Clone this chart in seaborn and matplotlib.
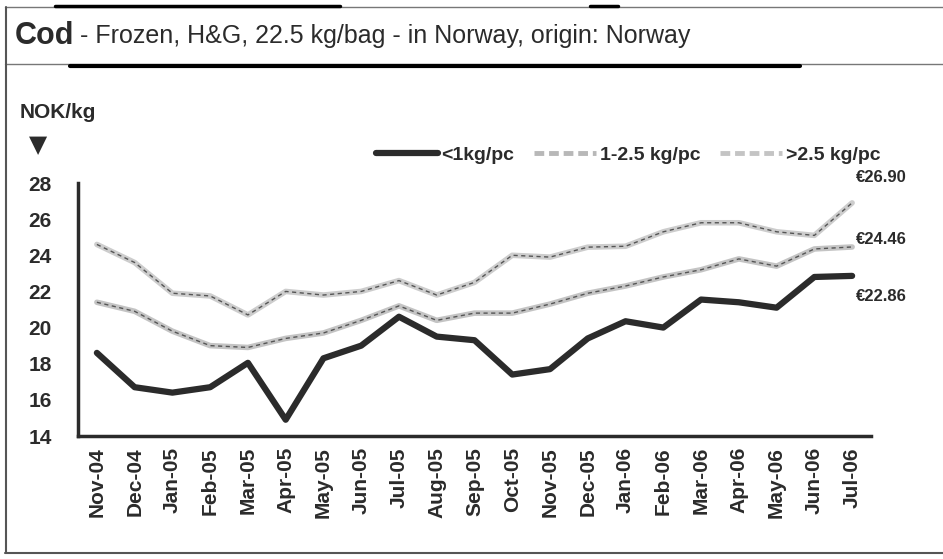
import matplotlib
matplotlib.use("Agg")
import matplotlib.pyplot as plt
from matplotlib.lines import Line2D
import seaborn as sns
import pandas as pd

months = ["Nov-04", "Dec-04", "Jan-05", "Feb-05", "Mar-05", "Apr-05", "May-05",
          "Jun-05", "Jul-05", "Aug-05", "Sep-05", "Oct-05", "Nov-05", "Dec-05",
          "Jan-06", "Feb-06", "Mar-06", "Apr-06", "May-06", "Jun-06", "Jul-06"]
small = [18.6, 16.7, 16.4, 16.7, 18.05, 14.9, 18.3, 19.0, 20.6, 19.5, 19.3,
         17.4, 17.7, 19.4, 20.35, 20.0, 21.55, 21.4, 21.1, 22.8, 22.86]
medium = [21.4, 20.9, 19.8, 19.0, 18.9, 19.4, 19.7, 20.4, 21.2, 20.4, 20.8,
          20.8, 21.3, 21.9, 22.3, 22.8, 23.2, 23.8, 23.4, 24.35, 24.46]
large = [24.6, 23.6, 21.9, 21.75, 20.7, 22.0, 21.8, 22.0, 22.6, 21.8, 22.5,
         24.0, 23.9, 24.45, 24.5, 25.3, 25.8, 25.8, 25.3, 25.1, 26.9]
series_names = ["<1kg/pc", "1-2.5 kg/pc", ">2.5 kg/pc"]
end_labels = ["€22.86", "€24.46", "€26.90"]

df = pd.DataFrame({"month": months * 3,
                   "idx": list(range(len(months))) * 3,
                   "price": small + medium + large,
                   "size": [s for s in series_names for _ in months]})

sns.set_theme(style="white")
plt.rcParams["font.family"] = ["Liberation Sans", "DejaVu Sans"]

fig = plt.figure(figsize=(9.43, 5.59), dpi=100)
ax = fig.add_axes([78 / 943, 1 - 436 / 559, (871 - 78) / 943, (436 - 183) / 559])

dark = "#2b2b2b"
# thick solid line for the small fish
sns.lineplot(data=df[df["size"] == series_names[0]], x="idx", y="price",
             color=dark, lw=4.5, ax=ax, legend=False)
# the two larger sizes: soft grey band with a fine dashed core
for name, band in [(series_names[1], "#c4c4c4"), (series_names[2], "#cdcdcd")]:
    sub = df[df["size"] == name]
    sns.lineplot(data=sub, x="idx", y="price", color=band, lw=4, ax=ax, legend=False)
    sns.lineplot(data=sub, x="idx", y="price", color="#555555", lw=1.0,
                 ls=(0, (3, 2.5)), ax=ax, legend=False)

ax.set_xlim(-0.5, len(months) - 0.5)
ax.set_ylim(14, 28)
ax.set_yticks(range(14, 29, 2))
ax.set_yticklabels([str(v) for v in range(14, 29, 2)], fontsize=15,
                   fontweight="bold", color=dark)
ax.set_xticks(range(len(months)))
ax.set_xticklabels(months, rotation=90, fontsize=15, fontweight="bold", color=dark)
ax.set_xticks([i - 0.5 for i in range(len(months) + 1)], minor=True)
ax.tick_params(axis="x", which="major", length=0, pad=8)
ax.tick_params(axis="x", which="minor", length=7, width=2, color=dark, direction="out")
ax.tick_params(axis="y", length=7, width=2, color=dark, direction="out", pad=12)
ax.set_xlabel("")
ax.set_ylabel("")
for side in ["top", "right"]:
    ax.spines[side].set_visible(False)
for side in ["left", "bottom"]:
    ax.spines[side].set_color(dark)
    ax.spines[side].set_linewidth(2.5)

# closing values at the right edge
last = len(months) - 1
offsets = [-21, 7, 25]
for vals, lab, off in zip([small, medium, large], end_labels, offsets):
    ax.annotate(lab, xy=(last, vals[-1]), xytext=(4, off),
                textcoords="offset pixels", annotation_clip=False,
                fontsize=12, fontweight="bold", color=dark,
                va="center", ha="left")

# legend
handles = [Line2D([], [], color=dark, lw=4.5),
           Line2D([], [], color="#b8b8b8", lw=3.5, ls=(0, (2, 1))),
           Line2D([], [], color="#c4c4c4", lw=3.5, ls=(0, (2, 1)))]
leg = fig.legend(handles, series_names, loc="center left",
                 bbox_to_anchor=(358 / 943, 1 - 155 / 559), ncol=3, frameon=False,
                 handlelength=3.2, handletextpad=0.2, columnspacing=1.0,
                 prop={"size": 14, "weight": "bold"})
for t in leg.get_texts():
    t.set_color(dark)

# unit label with pointer
fig.text(20 / 943, 1 - 112 / 559, "NOK/kg", fontsize=15, fontweight="bold",
         color=dark, va="center", ha="left")
fig.text(38 / 943, 1 - 145 / 559, "▼", fontsize=17, color=dark,
         va="center", ha="center", family="DejaVu Sans")

# title: bold species name followed by the product description
cod = fig.text(15 / 943, 1 - 36 / 559, "Cod", fontsize=22, fontweight="bold",
               color=dark, va="center", ha="left")
fig.canvas.draw()
cod_box = cod.get_window_extent()
fig.text((cod_box.x1 + 6) / 943, 1 - 36 / 559,
         "- Frozen, H&G, 22.5 kg/bag - in Norway, origin: Norway",
         fontsize=18, color=dark, va="center", ha="left")

# frame lines
def hline(y, x0, x1, lw, color):
    fig.add_artist(Line2D([x0 / 943, x1 / 943], [1 - y / 559, 1 - y / 559],
                          transform=fig.transFigure, lw=lw, color=color))

def vline(x, y0, y1, lw, color):
    fig.add_artist(Line2D([x / 943, x / 943], [1 - y0 / 559, 1 - y1 / 559],
                          transform=fig.transFigure, lw=lw, color=color))

hline(7, 5, 943, 1.0, "#777777")
hline(6, 55, 340, 2.5, "black")
hline(6, 590, 618, 2.5, "black")
hline(64, 5, 943, 1.0, "#777777")
hline(66, 70, 800, 3, "black")
hline(553, 5, 943, 1.5, "#555555")
vline(6, 7, 553, 1.5, "#555555")

fig.savefig("out.png", dpi=100, facecolor="white")
